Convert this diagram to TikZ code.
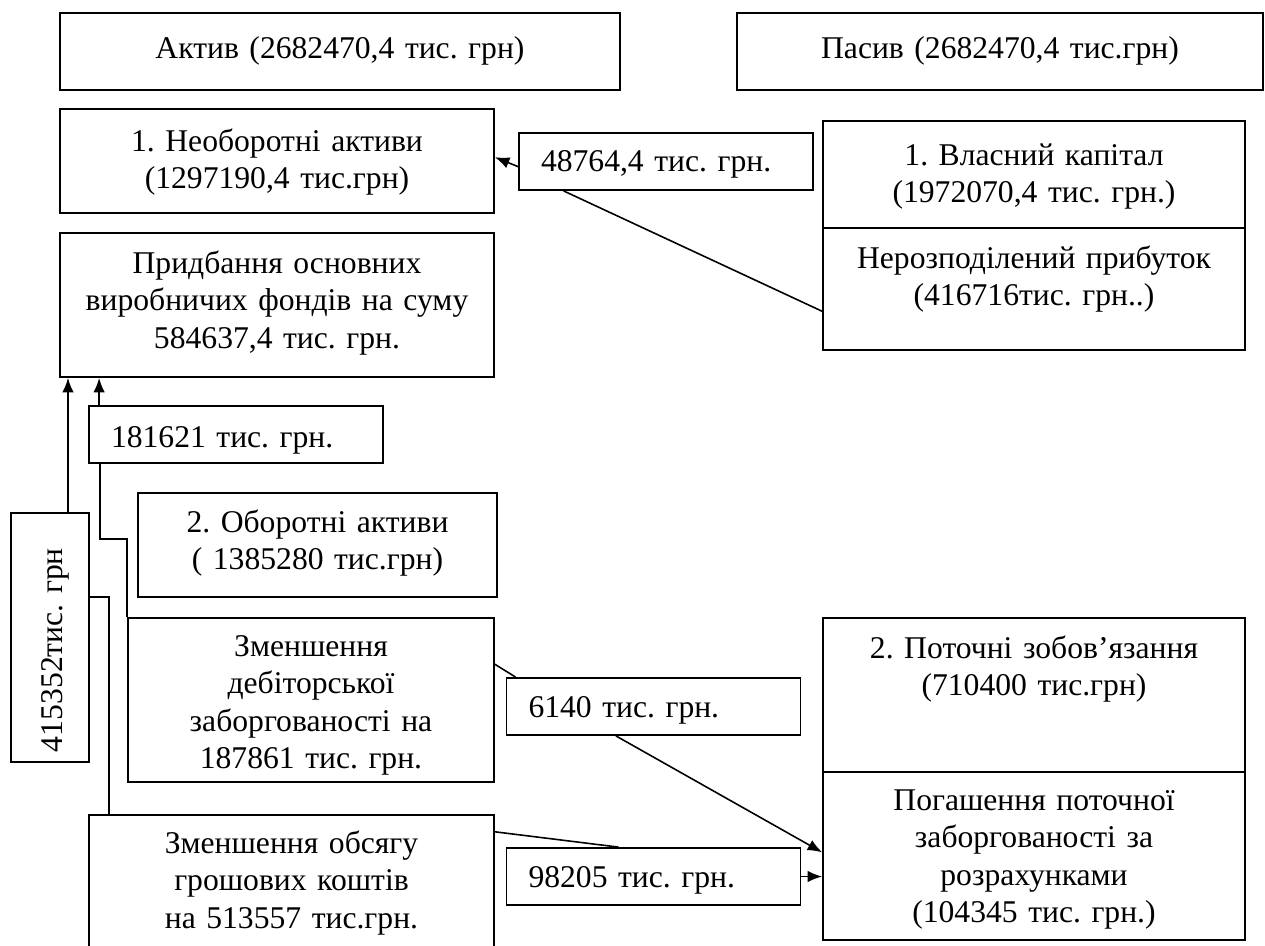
\documentclass[tikz,border=0pt]{standalone}
\usepackage{fontspec}
\setmainfont{Liberation Serif}
\usetikzlibrary{arrows.meta}
\frenchspacing

\begin{document}
\begin{tikzpicture}[x=0.2mm,y=-0.2mm,
  font=\fontsize{18}{21.4}\selectfont,
  box/.style={draw,line width=1pt,inner sep=0pt,align=center},
  sumbox/.style={draw,line width=1pt,inner xsep=4.4mm,inner ysep=0pt,align=left,
    text width=50mm,text height=7.8mm,text depth=3.6mm},
  link/.style={line width=0.9pt},
  arr/.style={line width=0.9pt,-{Latex[length=2.9mm,width=2.3mm]}}]
\useasboundingbox (0,0) rectangle (1265,945);
\node[box,text width=112mm,text height=9mm,text depth=6.4mm] (aktyv) at (340,51.5) {Актив (2682470,4 тис. грн)};
\node[box,text width=105.2mm,text height=9mm,text depth=6.4mm] (pasyv) at (1000,51.5) {Пасив (2682470,4 тис.грн)};
\node[box,text width=86.8mm,text height=8.4mm,text depth=12.4mm] (neob) at (277,161) {1. Необоротні активи\\(1297190,4 тис.грн)};
\node[sumbox,text height=7.6mm,text depth=3.8mm] (b48764) at (666,161.5) {48764,4 тис. грн.};
\node[box,text width=84.4mm,text height=8.8mm,text depth=12.6mm] (vlasnyi) at (1034,174.5) {1. Власний капітал\\(1972070,4 тис. грн.)};
\node[box,text width=84.4mm,text height=8mm,text depth=16.4mm] (nerozp) at (1034,289) {Нерозподілений прибуток\\(416716тис. грн..)};
\node[box,text width=86.8mm,text height=8mm,text depth=20.8mm] (prydb) at (277,305) {Придбання основних\\виробничих фондів на суму\\584637,4 тис. грн.};
\node[sumbox,text height=8.2mm,text depth=3.2mm] (b181621) at (236,434.5) {181621 тис. грн.};
\node[box,text width=71.8mm,text height=7.8mm,text depth=13mm] (oborot) at (317.5,545) {2. Оборотні активи\\( 1385280 тис.грн)};
\node[draw,line width=1pt,inner xsep=2mm,inner ysep=0pt,align=left,text width=45.8mm,
  text height=10.2mm,text depth=5.4mm,rotate=90] (v415352) at (50,637.5) {415352тис. грн};
\node[box,text width=73.2mm,text height=7.6mm,text depth=25.2mm] (zmdeb) at (311,700) {Зменшення\\дебіторської\\заборгованості на\\187861 тис. грн.};
\node[sumbox] (b6140) at (653.5,706.5) {6140 тис. грн.};
\node[box,text width=84.4mm,text height=8mm,text depth=22.8mm] (potochni) at (1034,695) {2. Поточні зобов’язання\\(710400 тис.грн)};
\node[box,text width=84.4mm,text height=7.6mm,text depth=26mm] (pohash) at (1034,856) {Погашення поточної\\заборгованості за\\розрахунками\\(104345 тис. грн.)};
\node[box,text width=81mm,text height=7.6mm,text depth=19.4mm] (zmobs) at (291.5,882.5) {Зменшення обсягу\\грошових коштів\\на 513557 тис.грн.};
\node[sumbox] (b98205) at (653.5,876.5) {98205 тис. грн.};

\draw[arr] (b48764.182) -- (neob.1);
\draw[link] (b48764.196) -- (nerozp.186);
\draw[arr] ([xshift=3.6mm]v415352.east) -- ([xshift=3.6mm]v415352.east |- prydb.south);
\draw[arr] ([xshift=2.2mm]b181621.north west) -- ([xshift=2.2mm]b181621.north west |- prydb.south);
\draw[link] ([xshift=2.4mm]b181621.south west) |- ([yshift=15.6mm]zmdeb.north west) -- (zmdeb.north west);
\draw[link] ([yshift=8.1mm]v415352.south) -| ([xshift=4.2mm]zmobs.north west);
\draw[link] (zmdeb.11) -- ([xshift=2mm]b6140.north west);
\draw[arr] (b6140.218) -- (pohash.179);
\draw[link] (zmobs.14) -- ([xshift=22.6mm]b98205.north west);
\draw[arr] (b98205.east) -- (b98205.east -| pohash.west);
\end{tikzpicture}
\end{document}
